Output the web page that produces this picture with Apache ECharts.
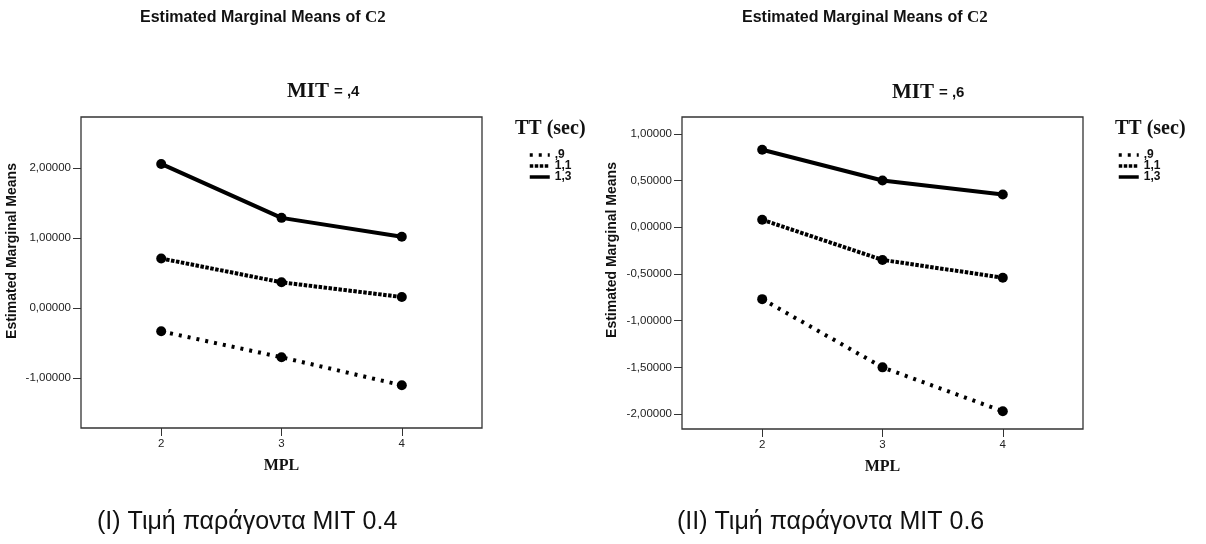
<!DOCTYPE html>
<html>
<head>
<meta charset="utf-8">
<script src="https://cdn.jsdelivr.net/npm/echarts@6/dist/echarts.min.js"></script>
<style>
  html, body { margin: 0; padding: 0; background: #fff; }
  #main { width: 1206px; height: 544px; }
</style>
</head>
<body>
<div id="main"></div>
<script>
// MPL levels on the horizontal axis
const mplLevels = [2, 3, 4];

// TT (sec) groups
const ttNames = [',9', '1,1', '1,3'];

// Estimated marginal means of C2, MIT = 0.4
const mit04_tt09 = [-0.33, -0.70, -1.10];
const mit04_tt11 = [0.71, 0.37, 0.16];
const mit04_tt13 = [2.06, 1.29, 1.02];

// Estimated marginal means of C2, MIT = 0.6
const mit06_tt09 = [-0.77, -1.50, -1.97];
const mit06_tt11 = [0.08, -0.35, -0.54];
const mit06_tt13 = [0.83, 0.50, 0.35];

// Tick values
const xTicks = [2, 3, 4];
const yTicksMit04 = [-1, 0, 1, 2];
const yTicksMit06 = [-2, -1.5, -1, -0.5, 0, 0.5, 1];

const SANS = '"Liberation Sans", Arial, sans-serif';
const SERIF = '"Liberation Serif", "Times New Roman", serif';
const AXIS_COLOR = '#333';

// Decimal comma with five digits, e.g. 1,00000
const fmtY = v => v.toFixed(5).replace('.', ',');

// Line patterns per TT group
const lineStyles = [
  { width: 4, type: [3, 6], cap: 'butt' },
  { width: 4, type: [3.5, 1.5], cap: 'butt' },
  { width: 4, type: 'solid', cap: 'butt' }
];

function pairs(vals) {
  return mplLevels.map((m, i) => [m, vals[i]]);
}

function makeSeries(gridIdx, groups) {
  return groups.map((vals, k) => ({
    name: ttNames[k],
    type: 'line',
    xAxisIndex: gridIdx,
    yAxisIndex: gridIdx,
    data: pairs(vals),
    symbol: 'circle',
    symbolSize: 10,
    itemStyle: { color: '#000' },
    lineStyle: Object.assign({ color: '#000' }, lineStyles[k]),
    emphasis: { disabled: true },
    animation: false,
    z: 3 + k
  }));
}

function xAxisFor(gridIdx) {
  return {
    type: 'value',
    gridIndex: gridIdx,
    min: 4 / 3,
    max: 14 / 3,
    name: 'MPL',
    nameLocation: 'middle',
    nameGap: 30,
    nameTextStyle: { fontFamily: SERIF, fontWeight: 'bold', fontSize: 16, color: '#111' },
    axisLine: { show: false, onZero: false },
    splitLine: { show: false },
    axisTick: { show: true, length: 8, customValues: xTicks, lineStyle: { color: AXIS_COLOR } },
    axisLabel: { customValues: xTicks, margin: 10, fontSize: 11.5, fontFamily: SANS, color: '#222' }
  };
}

function yAxisFor(gridIdx, min, max, ticks) {
  return {
    type: 'value',
    gridIndex: gridIdx,
    min: min,
    max: max,
    axisLine: { show: false, onZero: false },
    splitLine: { show: false },
    axisTick: { show: true, length: 8, customValues: ticks, lineStyle: { color: AXIS_COLOR } },
    axisLabel: { customValues: ticks, formatter: fmtY, margin: 10, fontSize: 11.5, fontFamily: SANS, color: '#222' }
  };
}

function legendAt(left, top) {
  return {
    orient: 'vertical',
    left: left,
    top: top,
    padding: 0,
    itemWidth: 20,
    itemHeight: 11,
    itemGap: -1,
    selectedMode: false,
    data: ttNames.map((n, k) => ({
      name: n,
      itemStyle: { opacity: 0 },
      lineStyle: { color: '#000', width: 3.5, type: lineStyles[k].type, cap: 'butt' }
    })),
    itemStyle: { opacity: 0 },
    textStyle: { fontFamily: SANS, fontWeight: 'bold', fontSize: 12, lineHeight: 11, color: '#111' }
  };
}

const mainTitleRich = {
  a: { fontFamily: SANS, fontWeight: 'bold', fontSize: 16, color: '#111' },
  b: { fontFamily: SERIF, fontWeight: 'bold', fontSize: 17, color: '#111' }
};
const mitRich = {
  a: { fontFamily: SERIF, fontWeight: 'bold', fontSize: 21, color: '#111' },
  b: { fontFamily: SANS, fontSize: 15, color: '#111' }
};
const ttStyle = { fontFamily: SERIF, fontWeight: 'bold', fontSize: 20, color: '#111' };
const captionStyle = { fontFamily: SANS, fontWeight: 'normal', fontSize: 25, color: '#111' };

const option = {
  backgroundColor: '#fff',
  animation: false,
  title: [
    { text: '{a|Estimated Marginal Means of }{b|C2}', left: 140, top: 9, padding: 0, textStyle: { rich: mainTitleRich } },
    { text: '{a|Estimated Marginal Means of }{b|C2}', left: 742, top: 9, padding: 0, textStyle: { rich: mainTitleRich } },
    { text: '{a|MIT} {b|= ,4}', left: 287, top: 81, padding: 0, textStyle: { rich: mitRich } },
    { text: '{a|MIT} {b|= ,6}', left: 892, top: 82, padding: 0, textStyle: { rich: mitRich } },
    { text: 'TT (sec)', left: 515, top: 119, padding: 0, textStyle: ttStyle },
    { text: 'TT (sec)', left: 1115, top: 119, padding: 0, textStyle: ttStyle },
    { text: '(I) Τιμή παράγοντα MIT 0.4', left: 97, top: 510, padding: 0, textStyle: captionStyle },
    { text: '(II) Τιμή παράγοντα MIT 0.6', left: 677, top: 510, padding: 0, textStyle: captionStyle }
  ],
  legend: [legendAt(528, 149), legendAt(1117, 149)],
  grid: [
    { left: 81, top: 117, width: 401, height: 311, show: true, borderColor: AXIS_COLOR, borderWidth: 1.3, backgroundColor: 'transparent' },
    { left: 682, top: 117, width: 401, height: 312, show: true, borderColor: AXIS_COLOR, borderWidth: 1.3, backgroundColor: 'transparent' }
  ],
  xAxis: [xAxisFor(0), xAxisFor(1)],
  yAxis: [
    yAxisFor(0, -1.71, 2.73, yTicksMit04),
    yAxisFor(1, -2.16, 1.18, yTicksMit06)
  ],
  graphic: [
    { type: 'text', x: 12, y: 251, rotation: Math.PI / 2,
      style: { text: 'Estimated Marginal Means', fontFamily: SANS, fontWeight: 'bold', fontSize: 14, fill: '#111', align: 'center', verticalAlign: 'middle' } },
    { type: 'text', x: 612, y: 250, rotation: Math.PI / 2,
      style: { text: 'Estimated Marginal Means', fontFamily: SANS, fontWeight: 'bold', fontSize: 14, fill: '#111', align: 'center', verticalAlign: 'middle' } }
  ],
  series: [].concat(
    makeSeries(0, [mit04_tt09, mit04_tt11, mit04_tt13]),
    makeSeries(1, [mit06_tt09, mit06_tt11, mit06_tt13])
  )
};

const chart = echarts.init(document.getElementById('main'), null, { renderer: 'canvas' });
chart.setOption(option);
</script>
</body>
</html>
